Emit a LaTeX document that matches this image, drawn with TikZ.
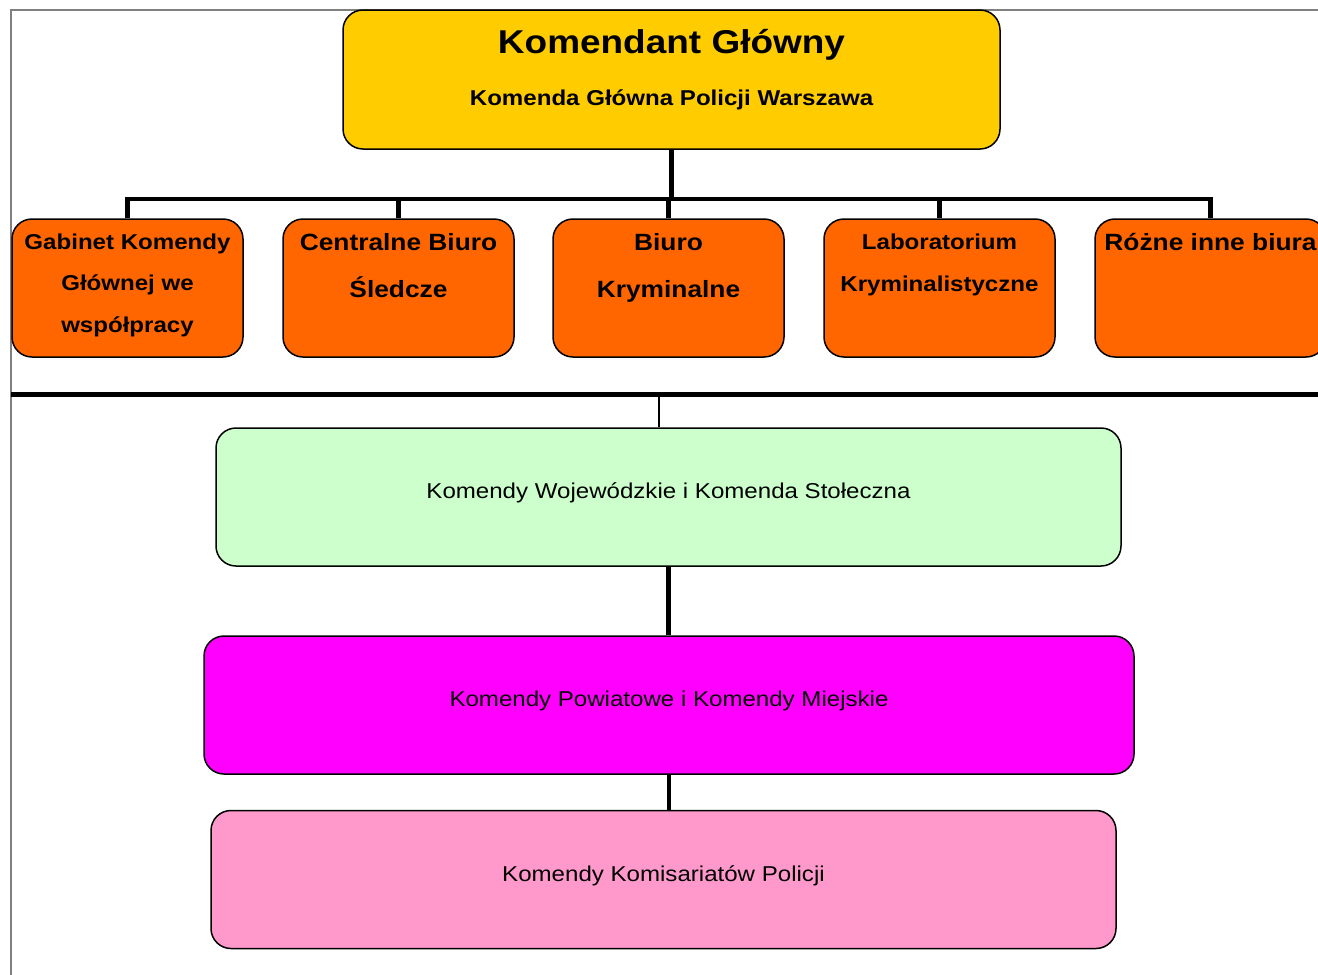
\documentclass[tikz,border=0pt]{standalone}
\usepackage{fontspec}
\usetikzlibrary{calc}
\setmainfont[FakeStretch=1.12]{Liberation Sans}
\definecolor{kgyellow}{HTML}{FFCC00}
\definecolor{kgorange}{HTML}{FF6600}
\definecolor{kggreen}{HTML}{CCFFCC}
\definecolor{kgmagenta}{HTML}{FF00FF}
\definecolor{kgpink}{HTML}{FF99CC}
\definecolor{framegray}{HTML}{808080}
\tikzset{
  orgbox/.style={draw=black, line width=1.5pt, rounded corners=20pt, inner sep=0pt},
  topbox/.style={orgbox, fill=kgyellow, minimum width=657pt, minimum height=139pt},
  unitbox/.style={orgbox, fill=kgorange, minimum width=231pt, minimum height=138pt},
  levelbox/.style={orgbox, minimum height=138pt, text height=13pt, text depth=10pt, font=\fontsize{21.5}{26}\selectfont},
  unittext/.style={anchor=base, inner sep=0pt},
  thickconn/.style={line width=4.5pt, line join=miter},
  thinconn/.style={line width=2.5pt},
  framestyle/.style={draw=framegray, line width=1.5pt},
}
\begin{document}
\begin{tikzpicture}[x=1pt, y=-1pt]
\path[use as bounding box, clip] (0,0) rectangle (1318,975);
\fill[white] (0,0) rectangle (1318,975);
% frame
\draw[framestyle] (11,975) -- (11,10) -- (1318,10);

% top box
\node[topbox] (top) at (671.5,79.5) {};
\node[unittext, font=\bfseries\fontsize{33}{40}\selectfont] (toptitle) at (671.5,53) {Komendant Główny};
\node[unittext, font=\bfseries\fontsize{21.5}{26}\selectfont] (topsub) at (671.5,105) {Komenda Główna Policji Warszawa};

% unit boxes
\node[unitbox] (b1) at (127.5,288) {};
\node[unitbox] (b2) at (398.5,288) {};
\node[unitbox] (b3) at (668.5,288) {};
\node[unitbox] (b4) at (939.5,288) {};
\node[unitbox] (b5) at (1210.5,288) {};

\node[unittext] (t1) at ($(b1.north)+(0,31)$) {\parbox[t]{226pt}{\centering\bfseries\fontsize{21.5}{41.5}\selectfont Gabinet Komendy\\Głównej we\\współpracy}};
\node[unittext] (t2) at ($(b2.north)+(0,32)$) {\parbox[t]{226pt}{\centering\bfseries\fontsize{23.5}{47}\selectfont Centralne Biuro\\Śledcze}};
\node[unittext] (t3) at ($(b3.north)+(0,32)$) {\parbox[t]{226pt}{\centering\bfseries\fontsize{23.5}{47}\selectfont Biuro\\Kryminalne}};
\node[unittext] (t4) at ($(b4.north)+(0,31)$) {\parbox[t]{226pt}{\centering\bfseries\fontsize{21.5}{42}\selectfont Laboratorium\\Kryminalistyczne}};
\node[unittext] (t5) at ($(b5.north)+(0,32)$) {\parbox[t]{240pt}{\centering\bfseries\fontsize{23.5}{47}\selectfont Różne inne biura}};

% bus connectors
\coordinate (bus) at (671,199);
\draw[thickconn] (top.south) -- (top.south|-bus);
\draw[thickconn] (b1.north) -- (b1.north|-bus) -- (b5.north|-bus) -- (b5.north);
\draw[thickconn] (b2.north) -- (b2.north|-bus);
\draw[thickconn] (b3.north) -- (b3.north|-bus);
\draw[thickconn] (b4.north) -- (b4.north|-bus);

% separator
\coordinate (sepL) at (11,394);
\coordinate (sepR) at (1318,394);
\coordinate (septap) at (659,394);
\draw[line width=5pt] (sepL) -- (sepR);

% lower levels
\node[levelbox, fill=kggreen, minimum width=905pt] (green) at (668.5,497) {Komendy Wojewódzkie i Komenda Stołeczna};
\node[levelbox, fill=kgmagenta, minimum width=930pt] (magenta) at (669,705) {Komendy Powiatowe i Komendy Miejskie};
\node[levelbox, fill=kgpink, minimum width=905pt] (pink) at (663.5,879.5) {Komendy Komisariatów Policji};

\draw[thinconn] (septap) -- (septap|-green.north);
\draw[thickconn] (green.south) -- (green.south|-magenta.north);
\draw[thickconn] (magenta.south) -- (magenta.south|-pink.north);
\end{tikzpicture}
\end{document}
